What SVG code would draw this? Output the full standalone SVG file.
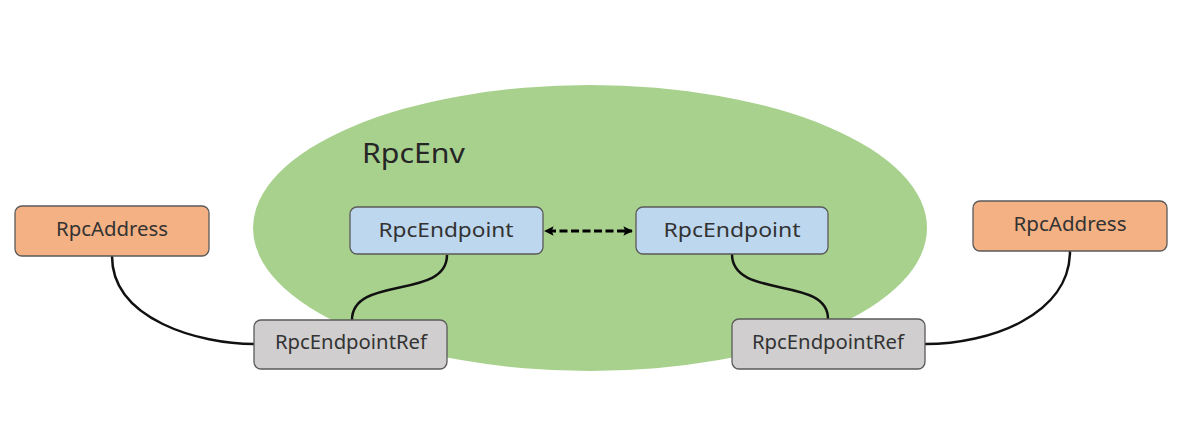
<svg xmlns="http://www.w3.org/2000/svg" width="1182" height="436" viewBox="0 0 1182 436">
<style>
  .box{stroke:#5a5a5a;stroke-width:1.3}
  .addr{fill:#F4B183}
  .ep{fill:#BDD7EE}
  .ref{fill:#D0CECE}
  .lbl{font-family:"Noto Sans","Liberation Sans",sans-serif;font-size:20.5px;fill:#333333;text-anchor:middle}
  .conn{fill:none;stroke:#111111;stroke-width:2.5}
</style>
<defs>
  <marker id="ah" viewBox="0 0 10 10" refX="9" refY="5" markerWidth="3.4" markerHeight="3.2" orient="auto-start-reverse" markerUnits="strokeWidth">
    <path d="M0,0 L10,5 L0,10 L2,5 z" fill="#000"/>
  </marker>
</defs>
<rect width="1182" height="436" fill="#ffffff"/>
<g id="rpcenv">
  <ellipse cx="590" cy="228" rx="337" ry="143" fill="#A9D18E"/>
  <text x="362" y="163" font-family="Noto Sans, Liberation Sans, sans-serif" font-size="28" fill="#262626" textLength="103" lengthAdjust="spacingAndGlyphs">RpcEnv</text>
</g>
<g id="connectors">
  <path class="conn" d="M112,256 C112,320 200,344 254,344"/>
  <path class="conn" d="M447,255 C447,300 352,275 352,320"/>
  <path class="conn" d="M732,254 C732,300 828,275 828,319"/>
  <path class="conn" d="M1070,251 C1070,315 990,344 925,344"/>
  <line x1="545" y1="231" x2="632" y2="231" stroke="#000" stroke-width="3" stroke-dasharray="8,3.5" stroke-dashoffset="-3" marker-start="url(#ah)" marker-end="url(#ah)"/>
</g>
<g id="addr-left">
  <rect class="box addr" x="15" y="206" width="194" height="50" rx="7"/>
  <text class="lbl" x="112" y="236" textLength="112" lengthAdjust="spacingAndGlyphs">RpcAddress</text>
</g>
<g id="ep-left">
  <rect class="box ep" x="350" y="207" width="193" height="47" rx="7"/>
  <text class="lbl" x="446" y="237" textLength="135" lengthAdjust="spacingAndGlyphs">RpcEndpoint</text>
</g>
<g id="ep-right">
  <rect class="box ep" x="636" y="207" width="192" height="47" rx="7"/>
  <text class="lbl" x="732" y="237" textLength="137" lengthAdjust="spacingAndGlyphs">RpcEndpoint</text>
</g>
<g id="ref-left">
  <rect class="box ref" x="254" y="320" width="193" height="49" rx="7"/>
  <text class="lbl" x="351" y="349" textLength="152" lengthAdjust="spacingAndGlyphs">RpcEndpointRef</text>
</g>
<g id="ref-right">
  <rect class="box ref" x="732" y="319" width="193" height="50" rx="7"/>
  <text class="lbl" x="828" y="349" textLength="152" lengthAdjust="spacingAndGlyphs">RpcEndpointRef</text>
</g>
<g id="addr-right">
  <rect class="box addr" x="973" y="201" width="194" height="50" rx="7"/>
  <text class="lbl" x="1070" y="231" textLength="113" lengthAdjust="spacingAndGlyphs">RpcAddress</text>
</g>
</svg>
